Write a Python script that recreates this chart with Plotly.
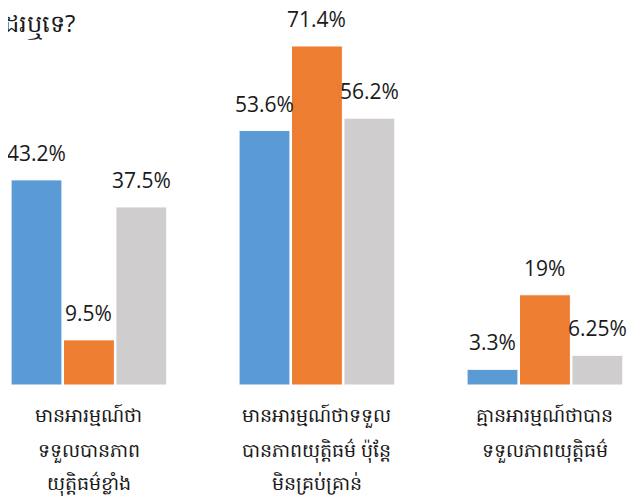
import plotly.graph_objects as go

categories = [
    ["មានអារម្មណ៍ថា", "ទទួលបានភាព", "យុត្តិធម៌ខ្លាំង"],
    ["មានអារម្មណ៍ថាទទួល", "បានភាពយុត្តិធម៌ ប៉ុន្តែ", "មិនគ្រប់គ្រាន់"],
    ["គ្មានអារម្មណ៍ថាបាន", "ទទួលភាពយុត្តិធម៌"],
]
series_names = ["Series 1", "Series 2", "Series 3"]
series_values = [
    [43.2, 53.6, 3.3],
    [9.5, 71.4, 19.0],
    [37.5, 56.2, 6.25],
]
series_labels = [
    ["43.2%", "53.6%", "3.3%"],
    ["9.5%", "71.4%", "19%"],
    ["37.5%", "56.2%", "6.25%"],
]
colors = ["#5B9BD5", "#ED7D31", "#CFCDCE"]
title_text = "ដរឬទេ?"

x_idx = list(range(len(categories)))
bargap = 0.31
groupgap = 0.03
n = len(series_names)
slot = (1 - bargap) / n

fig = go.Figure()
annotations = []
for k, (name, vals, labs, col) in enumerate(zip(series_names, series_values, series_labels, colors)):
    fig.add_trace(go.Bar(
        x=x_idx, y=vals, name=name,
        marker=dict(color=col, line=dict(color="white", width=1)),
    ))
    off = (k - (n - 1) / 2) * slot
    for i, (v, t) in enumerate(zip(vals, labs)):
        annotations.append(dict(
            text=t, x=i + off, y=v, xref="x", yref="y",
            xanchor="center", yanchor="bottom", showarrow=False,
            yshift=11,
            font=dict(size=21, color="#1a1a1a", family="Open Sans, DejaVu Sans, sans-serif"),
        ))

annotations.append(dict(
    text=title_text, x=0, y=1, xref="paper", yref="paper",
    xanchor="left", yanchor="top", showarrow=False,
    font=dict(size=24, color="#1a1a1a"), xshift=-6, yshift=4,
))
line_shifts = [30, 65, 98]
for i, lines in enumerate(categories):
    for j, line in enumerate(lines):
        annotations.append(dict(
            text=line, x=i, y=0, xref="x", yref="y",
            xanchor="center", yanchor="middle", showarrow=False,
            yshift=-line_shifts[j],
            font=dict(size=19, color="#1a1a1a"),
        ))

fig.update_layout(
    width=640, height=497,
    margin=dict(l=0, r=0, t=0, b=120),
    paper_bgcolor="white", plot_bgcolor="white",
    barmode="group", bargap=bargap, bargroupgap=groupgap,
    showlegend=False,
    xaxis=dict(range=[-0.355, 2.452], showticklabels=False, showgrid=False,
               zeroline=False, showline=False, ticks=""),
    yaxis=dict(range=[0, 79.4], showticklabels=False, showgrid=False,
               zeroline=False, showline=False, ticks=""),
    annotations=annotations,
)

fig.write_html("out.html")
